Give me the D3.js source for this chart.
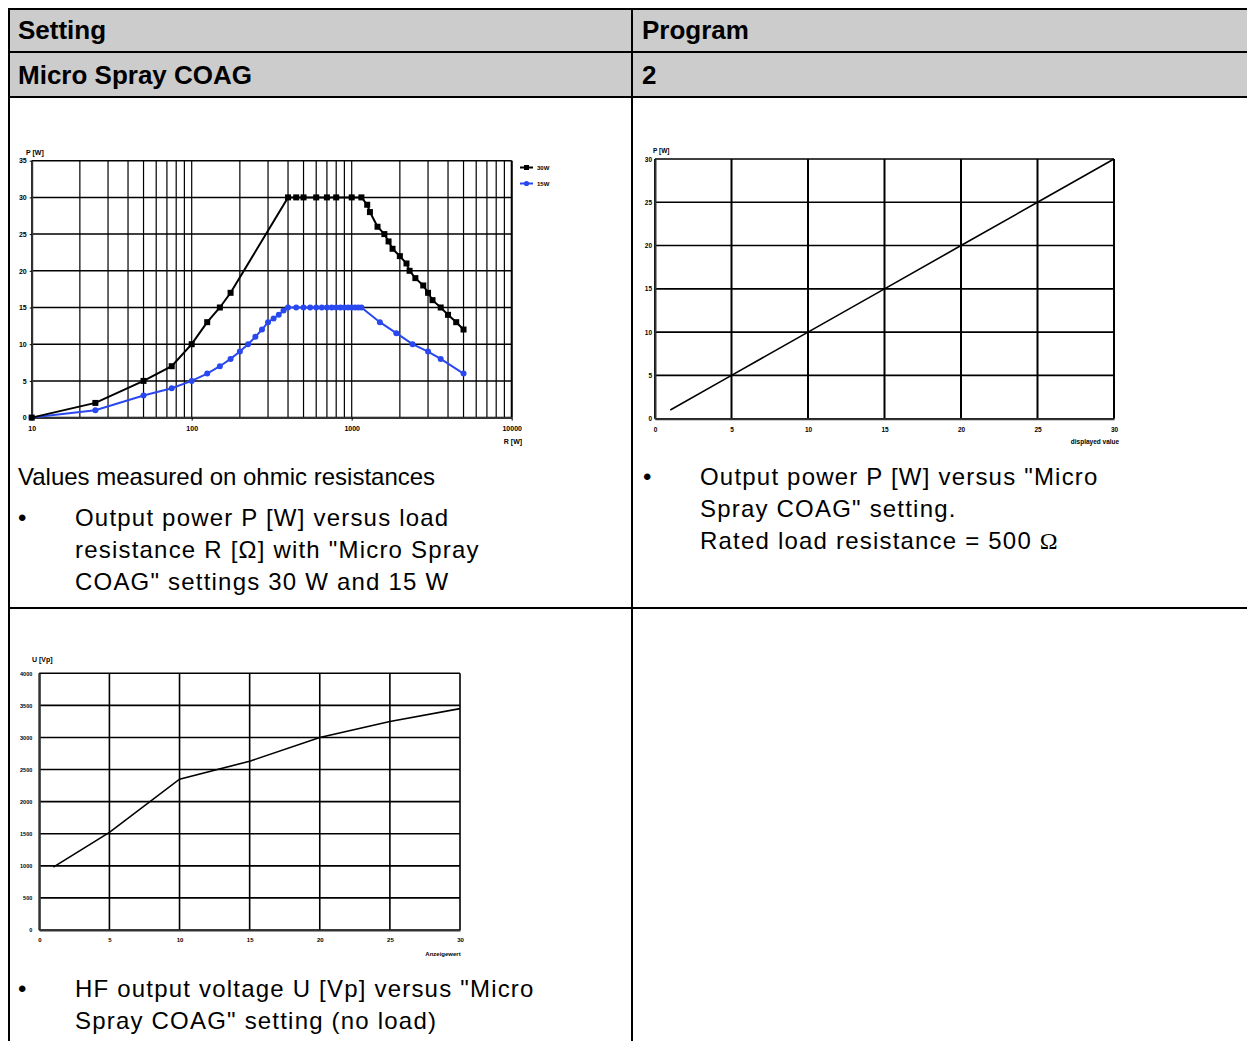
<!DOCTYPE html>
<html>
<head>
<meta charset="utf-8">
<script src="https://cdn.jsdelivr.net/npm/d3@7"></script>
<style>
  body { margin: 0; background: #fff; }
  text { font-family: "Liberation Sans", Arial, sans-serif; }
</style>
</head>
<body>
<svg id="page"></svg>
<script>
// output power P [W] vs load R, setting 30 W
const r30 = [10, 25, 50, 75, 100, 125, 150, 175, 400, 450, 500, 600, 700, 800, 1000, 1150,
             1250, 1300, 1450, 1600, 1700, 1800, 2000, 2200, 2300, 2500, 2800, 3000, 3200, 3600, 4000, 4500, 5000];
const p30 = [0, 2, 5, 7, 10, 13, 15, 17, 30, 30, 30, 30, 30, 30, 30, 30,
             29, 28, 26, 25, 24, 23, 22, 21, 20, 19, 18, 17, 16, 15, 14, 13, 12];
// same, setting 15 W
const r15 = [10, 25, 50, 75, 100, 125, 150, 175, 200, 225, 250, 275, 300, 325, 350, 375,
             400, 450, 500, 550, 600, 650, 700, 750, 800, 850, 900, 950, 1000, 1050, 1100, 1150,
             1500, 1900, 2400, 3000, 3600, 5000];
const p15 = [0, 1, 3, 4, 5, 6, 7, 8, 9, 10, 11, 12, 13, 13.5, 14, 14.6,
             15, 15, 15, 15, 15, 15, 15, 15, 15, 15, 15, 15, 15, 15, 15, 15,
             13, 11.5, 10, 9, 8, 6];
const rTicks = [10, 100, 1000, 10000];
const pTicks1 = [0, 5, 10, 15, 20, 25, 30, 35];

// output power vs displayed value
const shown2 = [1, 5, 10, 15, 20, 25, 30];
const power2 = [1, 5, 10, 15, 20, 25, 30];
const setTicks = [0, 5, 10, 15, 20, 25, 30];
const pTicks2 = [0, 5, 10, 15, 20, 25, 30];

// HF voltage vs setting (no load)
const shown3 = [1, 5, 10, 15, 20, 25, 30];
const volt3 = [980, 1520, 2350, 2630, 3000, 3250, 3450];
const uTicks = [0, 500, 1000, 1500, 2000, 2500, 3000, 3500, 4000];

const svg = d3.select("#page").attr("width", 1247).attr("height", 1041);

// ---- table ----
svg.append("rect").attr("x", 9).attr("y", 9).attr("width", 1240).attr("height", 88).attr("fill", "#cccccc");
[9, 52, 97, 608].forEach(yy => {
  svg.append("line").attr("x1", 8).attr("x2", 1247).attr("y1", yy).attr("y2", yy)
    .attr("stroke", "#000").attr("stroke-width", 2);
});
[9, 632].forEach(xx => {
  svg.append("line").attr("x1", xx).attr("x2", xx).attr("y1", 8).attr("y2", 1041)
    .attr("stroke", "#000").attr("stroke-width", 2);
});

function txt(x, y, s, size, bold, spacing) {
  return svg.append("text").attr("x", x).attr("y", y).text(s)
    .attr("font-size", size).attr("font-weight", bold ? "bold" : "normal")
    .attr("letter-spacing", spacing || 0).attr("fill", "#000");
}
txt(18, 39, "Setting", 26, true);
txt(642, 39, "Program", 26, true);
txt(18, 84, "Micro Spray COAG", 26, true);
txt(642, 84, "2", 26, true);

// the bullet paragraphs are set a little wider than the plain line
const ls = 1.2;
txt(18, 485, "Values measured on ohmic resistances", 24);
txt(18, 526, "•", 24);
txt(75, 526, "Output power P [W] versus load", 24, false, ls);
txt(75, 558, "resistance R [Ω] with \"Micro Spray", 24, false, ls);
txt(75, 590, "COAG\" settings 30 W and 15 W", 24, false, ls);

txt(643, 485, "•", 24);
txt(700, 485, "Output power P [W] versus \"Micro", 24, false, ls);
txt(700, 517, "Spray COAG\" setting.", 24, false, ls);
const rated = txt(700, 549, "Rated load resistance = 500 ", 24, false, ls);
rated.append("tspan").attr("font-family", "Liberation Serif, serif").text("Ω");

txt(18, 997, "•", 24);
txt(75, 997, "HF output voltage U [Vp] versus \"Micro", 24, false, ls);
txt(75, 1029, "Spray COAG\" setting (no load)", 24, false, ls);

function styleAxis(sel, size, width) {
  sel.select(".domain").attr("stroke", "#333").attr("stroke-width", width);
  sel.selectAll(".tick line").attr("stroke", "#000");
  sel.selectAll("text").attr("font-size", size).attr("font-weight", "bold")
    .attr("font-family", "'Liberation Sans', Arial, sans-serif").attr("fill", "#000");
}

// ---- chart 1: P vs R (log) ----
const x1 = d3.scaleLog().domain([10, 10000]).range([31.7, 511.7]);
const y1 = d3.scaleLinear().domain([0, 35]).range([417.6, 160.7]);
const g1 = svg.append("g");

g1.selectAll(".vg").data(x1.ticks()).join("line")
  .attr("x1", d => x1(d)).attr("x2", d => x1(d)).attr("y1", y1(35)).attr("y2", y1(0))
  .attr("stroke", "#000").attr("stroke-width", 1.2);
g1.selectAll(".hg").data(pTicks1).join("line")
  .attr("x1", x1(10)).attr("x2", x1(10000)).attr("y1", d => y1(d)).attr("y2", d => y1(d))
  .attr("stroke", "#000").attr("stroke-width", 1.5);
g1.append("line").attr("x1", x1(10000)).attr("x2", x1(10000)).attr("y1", y1(35)).attr("y2", y1(0))
  .attr("stroke", "#000").attr("stroke-width", 2);

g1.append("g").attr("transform", `translate(0,${y1(0)})`)
  .call(d3.axisBottom(x1).tickValues(rTicks).tickFormat(d3.format("d")).tickSize(3).tickPadding(5).tickSizeOuter(0))
  .call(s => styleAxis(s, 7, 2));
g1.append("g").attr("transform", `translate(${x1(10)},0)`)
  .call(d3.axisLeft(y1).tickValues(pTicks1).tickSize(2).tickPadding(3).tickSizeOuter(0))
  .call(s => styleAxis(s, 7, 2));

g1.append("text").attr("x", 26).attr("y", 155).text("P  [W]").attr("font-size", 7).attr("font-weight", "bold");
g1.append("text").attr("x", 513).attr("y", 444).text("R  [W]").attr("font-size", 7).attr("font-weight", "bold")
  .attr("text-anchor", "middle");

const line1 = d3.line().x(d => x1(d[0])).y(d => y1(d[1]));
const s30 = r30.map((r, i) => [r, p30[i]]);
const s15 = r15.map((r, i) => [r, p15[i]]);
const blue = "#2a48f0";

g1.append("path").datum(s15).attr("d", line1).attr("fill", "none").attr("stroke", blue).attr("stroke-width", 2);
g1.selectAll(".c15").data(s15).join("circle")
  .attr("cx", d => x1(d[0])).attr("cy", d => y1(d[1])).attr("r", 3).attr("fill", blue);
g1.append("path").datum(s30).attr("d", line1).attr("fill", "none").attr("stroke", "#000").attr("stroke-width", 2);
g1.selectAll(".q30").data(s30).join("rect")
  .attr("x", d => x1(d[0]) - 3).attr("y", d => y1(d[1]) - 3).attr("width", 6).attr("height", 6).attr("fill", "#000");

// legend
const leg = g1.append("g");
leg.append("line").attr("x1", 520).attr("x2", 533).attr("y1", 167.5).attr("y2", 167.5).attr("stroke", "#000").attr("stroke-width", 2);
leg.append("rect").attr("x", 524).attr("y", 165).attr("width", 5).attr("height", 5).attr("fill", "#000");
leg.append("text").attr("x", 537).attr("y", 170).text("30W").attr("font-size", 6).attr("font-weight", "bold");
leg.append("line").attr("x1", 520).attr("x2", 533).attr("y1", 183.5).attr("y2", 183.5).attr("stroke", blue).attr("stroke-width", 2);
leg.append("circle").attr("cx", 526.5).attr("cy", 183.5).attr("r", 2.6).attr("fill", blue);
leg.append("text").attr("x", 537).attr("y", 186).text("15W").attr("font-size", 6).attr("font-weight", "bold");

// ---- chart 2: P vs displayed value ----
const x2 = d3.scaleLinear().domain([0, 30]).range([655, 1114]);
const y2 = d3.scaleLinear().domain([0, 30]).range([418.7, 159]);
const g2 = svg.append("g");
g2.selectAll(".vg").data(setTicks).join("line")
  .attr("x1", d => x2(d)).attr("x2", d => x2(d)).attr("y1", y2(30)).attr("y2", y2(0))
  .attr("stroke", "#000").attr("stroke-width", 2);
g2.selectAll(".hg").data(pTicks2).join("line")
  .attr("x1", x2(0)).attr("x2", x2(30)).attr("y1", d => y2(d)).attr("y2", d => y2(d))
  .attr("stroke", "#000").attr("stroke-width", 1.6);
g2.append("g").attr("transform", `translate(0,${y2(0)})`)
  .call(d3.axisBottom(x2).tickValues(setTicks).tickSize(0).tickPadding(9))
  .call(s => styleAxis(s, 6.5, 2));
g2.append("g").attr("transform", `translate(${x2(0)},0)`)
  .call(d3.axisLeft(y2).tickValues(pTicks2).tickSize(0).tickPadding(3))
  .call(s => styleAxis(s, 6.5, 2));
g2.append("text").attr("x", 653).attr("y", 153).text("P  [W]").attr("font-size", 6.5).attr("font-weight", "bold");
g2.append("text").attr("x", 1095).attr("y", 444).text("displayed value").attr("font-size", 6.5).attr("font-weight", "bold")
  .attr("text-anchor", "middle");
const line2 = d3.line().x(d => x2(d[0])).y(d => y2(d[1]));
g2.append("path").datum(shown2.map((s, i) => [s, power2[i]])).attr("d", line2)
  .attr("fill", "none").attr("stroke", "#000").attr("stroke-width", 1.6);

// ---- chart 3: U vs setting ----
const x3 = d3.scaleLinear().domain([0, 30]).range([39.3, 460]);
const y3 = d3.scaleLinear().domain([0, 4000]).range([930, 673.3]);
const g3 = svg.append("g");
g3.selectAll(".vg").data(setTicks).join("line")
  .attr("x1", d => x3(d)).attr("x2", d => x3(d)).attr("y1", y3(4000)).attr("y2", y3(0))
  .attr("stroke", "#000").attr("stroke-width", 1.6);
g3.selectAll(".hg").data(uTicks).join("line")
  .attr("x1", x3(0)).attr("x2", x3(30)).attr("y1", d => y3(d)).attr("y2", d => y3(d))
  .attr("stroke", "#000").attr("stroke-width", 1.6);
g3.append("g").attr("transform", `translate(0,${y3(0)})`)
  .call(d3.axisBottom(x3).tickValues(setTicks).tickSize(0).tickPadding(8))
  .call(s => styleAxis(s, 6, 2));
g3.append("g").attr("transform", `translate(${x3(0)},0)`)
  .call(d3.axisLeft(y3).tickValues(uTicks).tickFormat(d3.format("d")).tickSize(0).tickPadding(7))
  .call(s => styleAxis(s, 5.5, 2));
g3.append("text").attr("x", 32).attr("y", 662).text("U [Vp]").attr("font-size", 7).attr("font-weight", "bold");
g3.append("text").attr("x", 443).attr("y", 956).text("Anzeigewert").attr("font-size", 6).attr("font-weight", "bold")
  .attr("text-anchor", "middle");
const line3 = d3.line().x(d => x3(d[0])).y(d => y3(d[1]));
g3.append("path").datum(shown3.map((s, i) => [s, volt3[i]])).attr("d", line3)
  .attr("fill", "none").attr("stroke", "#000").attr("stroke-width", 1.6);
</script>
</body>
</html>
